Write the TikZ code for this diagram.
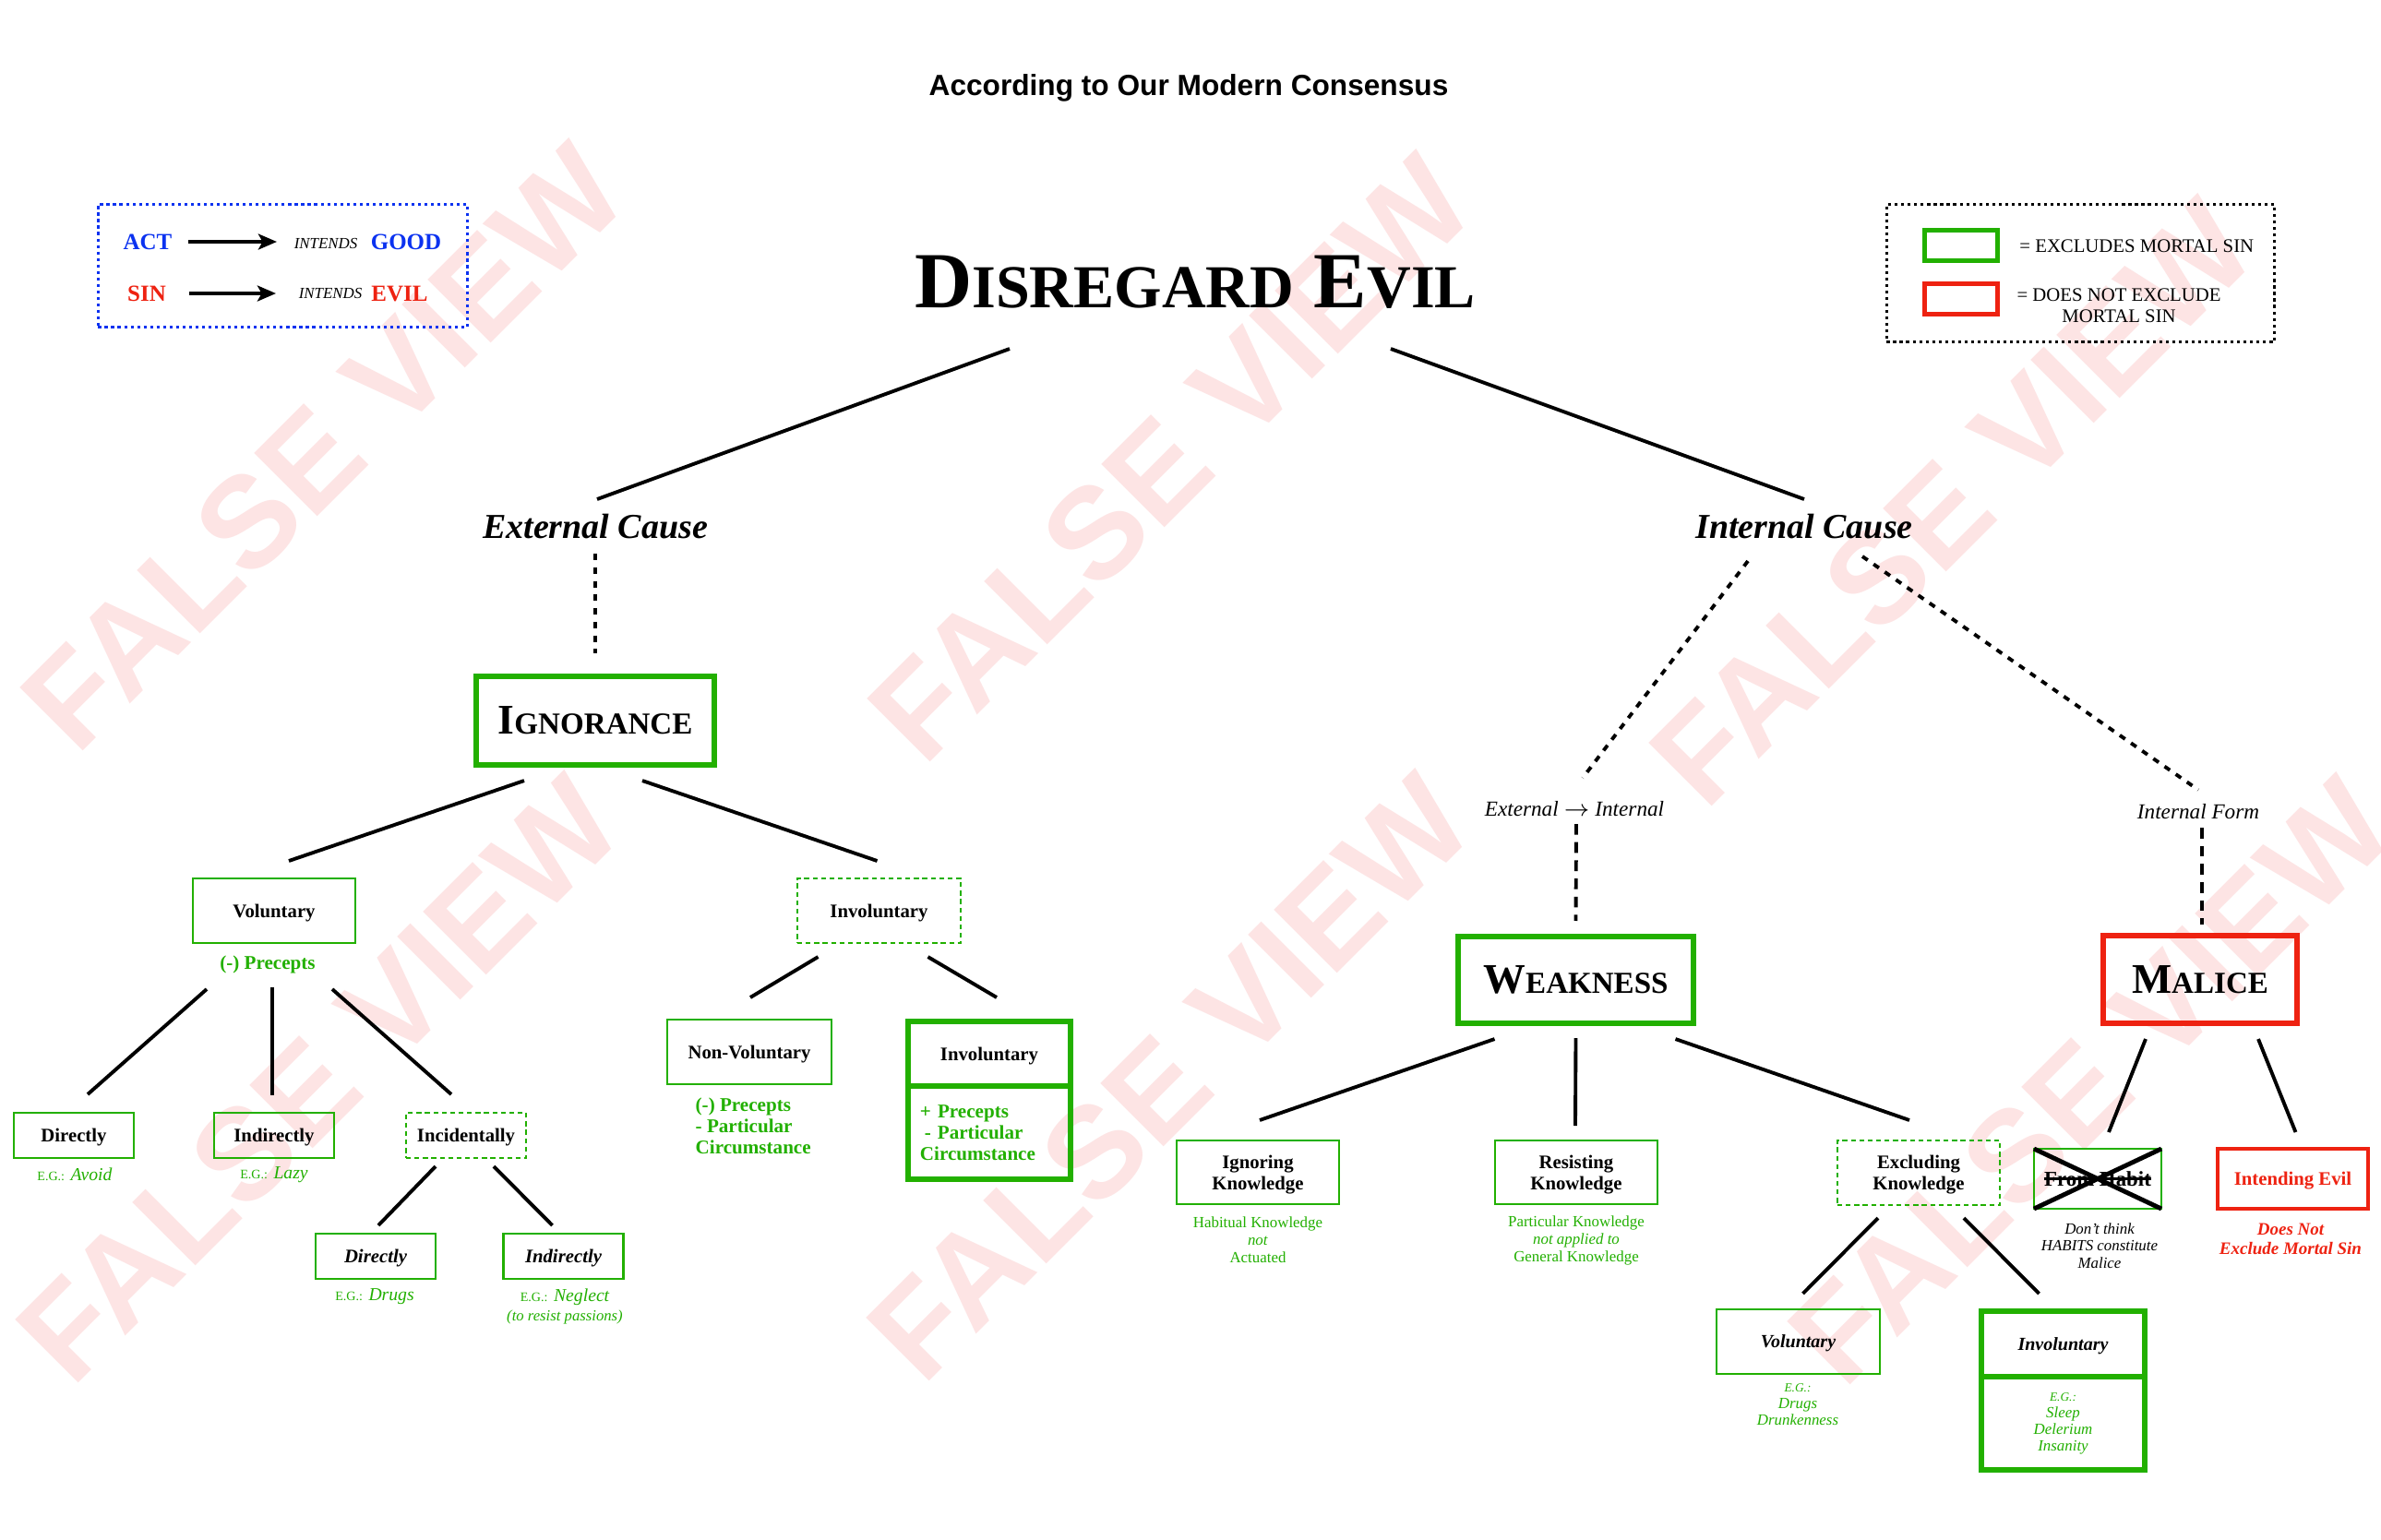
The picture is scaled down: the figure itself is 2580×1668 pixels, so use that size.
\documentclass[tikz,border=0pt]{standalone}
\usepackage{fontspec}
\setmainfont{Liberation Serif}
\setsansfont{Liberation Sans}
\usetikzlibrary{arrows.meta, positioning}
\definecolor{okgreen}{HTML}{22B000}
\definecolor{sinred}{HTML}{EE2211}
\definecolor{actblue}{HTML}{0B32F0}
\definecolor{markpink}{HTML}{FDE4E4}
\newcommand{\fsz}[2]{\fontsize{#1pt}{#2pt}\selectfont}
\newcommand{\fakesc}[3]{#2{\fontsize{#1pt}{#1pt}\selectfont #3}}
\newcommand{\egtag}{{\upshape\fsz{4}{4}E.G.:}}

\begin{document}
\begin{tikzpicture}[x=0.01cm, y=-0.01cm,
    branch/.style={line width=1.1pt},
    dotbranch/.style={line width=1.1pt, dash pattern=on 2pt off 2.2pt},
    dashbranch/.style={line width=1.1pt, dash pattern=on 3.3pt off 2.3pt},
    okbox/.style={
        draw=okgreen,
        line width=0.7pt,
        inner sep=0pt,
        outer sep=0pt,
        text depth=0pt,
        align=center,
        minimum width=1.3cm,
        minimum height=0.49cm,
        font=\bfseries\fsz{5.9}{6.5}
    },
    wideokbox/.style={okbox, minimum width=1.77cm, minimum height=0.70cm},
    maybebox/.style={dash pattern=on 1.5pt off 1.1pt},
    bigbox/.style={
        draw=okgreen,
        line width=1.6pt,
        inner sep=0pt,
        outer sep=0pt,
        text depth=0pt,
        align=center,
        font=\bfseries\fsz{13}{14}
    },
    listbox/.style={bigbox, text depth=},
    goodnote/.style={text=okgreen, font=\bfseries\fsz{6}{6.6}},
    egnote/.style={text=okgreen, align=center, font=\itshape\fsz{5.6}{5.8}},
    plainnote/.style={text=okgreen, align=center, font=\fsz{4.8}{5.4}},
    causetext/.style={font=\bfseries\itshape\fsz{10.8}{12}},
    formtext/.style={font=\itshape\fsz{6.6}{7}},
    keyframe/.style={line width=0.9pt, dash pattern=on 0.9pt off 1.1pt, minimum width=4.0cm, minimum height=1.33cm},
    keyword/.style={font=\bfseries\fsz{7.1}{8}},
    intendsword/.style={font=\itshape\fsz{4.8}{5}},
    keyarrow/.style={line width=1.4pt, -{Stealth[length=5.7pt, width=4.8pt, inset=1.3pt]}},
    swatch/.style={line width=1.4pt, inner sep=0pt, minimum width=0.79cm, minimum height=0.33cm},
    watermark/.style={text=markpink, rotate=45, font=\sffamily\bfseries\fsz{40}{40}}
]
\useasboundingbox (0,0) rectangle (2580,1668);
\fill[white] (0,0) rectangle (2580,1668);

% watermark
\foreach \wx/\wy in {350/485, 1268/497, 2115/545, 345/1170, 1267/1168, 2265/1172}
    \node[watermark] (mark\wx) at (\wx,\wy) {FALSE VIEW};

% title and root
\node[font=\sffamily\bfseries\fsz{9}{10}] (title) at (1288,95) {According to Our Modern Consensus};
\node[font=\bfseries\fsz{24.5}{26}] (root) at (1295,306) {\fakesc{18.8}{D}{ISREGARD} \fakesc{18.8}{E}{VIL}};

% key: act / sin
\node[keyframe, draw=actblue] (keyact) at (306.5,288) {};
\node[keyword, text=actblue] (act) at (160,262) {ACT};
\node[intendsword] (intgood) at (353,264) {INTENDS};
\node[keyword, text=actblue] (good) at (440,262) {GOOD};
\node[keyword, text=sinred] (sin) at (159,318) {SIN};
\node[intendsword] (intevil) at (358,318) {INTENDS};
\node[keyword, text=sinred] (evil) at (433,318) {EVIL};
\draw[keyarrow, shorten <=1.6pt, shorten >=1.8pt] (act.east) -- (act.east -| intgood.west);
\draw[keyarrow, shorten <=3.7pt, shorten >=3.5pt] (sin.east) -- (sin.east -| intevil.west);

% key: mortal sin
\node[keyframe, draw=black, minimum width=4.20cm, minimum height=1.49cm] (keymortal) at (2254.5,296) {};
\node[swatch, draw=okgreen] (swgreen) at (2125,266) {};
\node[swatch, draw=sinred] (swred) at (2125,324) {};
\node[anchor=west, font=\fsz{5.9}{6.5}] (keyok) at (2176,267) {= EXCLUDES MORTAL SIN};
\node[align=center, font=\fsz{5.9}{6.5}] (keynot) at (2296,331) {= DOES NOT EXCLUDE\\MORTAL SIN};

% causes
\node[causetext] (ext) at (645,571) {External Cause};
\node[causetext] (intc) at (1955,571) {Internal Cause};

% ignorance branch
\node[bigbox, minimum width=2.58cm, minimum height=0.96cm] (ign) at (645,781) {\fakesc{9.4}{I}{GNORANCE}};
\node[wideokbox, minimum width=1.76cm] (vol) at (297,987) {Voluntary};
\node[goodnote] (volnote) at (290,1045) {(-) Precepts};
\node[okbox] (dir1) at (80,1230.5) {Directly};
\node[egnote] (dir1note) at (81,1273) {\egtag{} Avoid};
\node[okbox] (ind1) at (297,1230.5) {Indirectly};
\node[egnote] (ind1note) at (297,1273) {\egtag{} Lazy};
\node[okbox, maybebox] (inc) at (505,1230.5) {Incidentally};
\node[okbox, font=\bfseries\itshape\fsz{5.9}{6.5}] (dir2) at (407,1361.5) {Directly};
\node[egnote] (dir2note) at (406,1405) {\egtag{} Drugs};
\node[okbox, font=\bfseries\itshape\fsz{5.9}{6.5}] (ind2) at (610.5,1361.5) {Indirectly};
\node[egnote] (ind2note) at (612,1416) {\egtag{} Neglect\\{\fsz{4.75}{5.8}(to resist passions)}};

\node[wideokbox, maybebox] (invd) at (952.5,987) {Involuntary};
\node[wideokbox, minimum width=1.78cm] (nonv) at (812,1140) {Non-Voluntary};
\node[goodnote, align=left, anchor=west, inner sep=0pt] (nonvnote) at (753,1220) {(-) Precepts\\- Particular\\Circumstance};
\node[bigbox, minimum width=1.76cm, minimum height=0.70cm, font=\bfseries\fsz{5.9}{6.5}] (invbt) at (1072,1142) {Involuntary};
\node[listbox, minimum width=1.76cm, minimum height=1.01cm, text width=1.5cm, align=left,
    text=okgreen, font=\bfseries\fsz{6}{6.6}] (invbb) at (1072,1227.5) {+ Precepts\\\hspace{1.4pt}- Particular\\Circumstance};

% weakness / malice branch
\node[formtext] (extint) at (1706,877) {External $\rightarrow$ Internal};
\node[formtext] (intform) at (2382,880) {Internal Form};
\node[bigbox, minimum width=2.55cm, minimum height=0.94cm] (weak) at (1707.5,1062) {\fakesc{9.4}{W}{EAKNESS}};
\node[bigbox, draw=sinred, minimum width=2.10cm, minimum height=0.95cm] (mal) at (2384,1061.5) {\fakesc{9.4}{M}{ALICE}};

\node[wideokbox, minimum width=1.76cm, minimum height=0.69cm] (ignk) at (1363,1270.5) {Ignoring\\Knowledge};
\node[plainnote] (ignknote) at (1363,1344) {Habitual Knowledge\\\textit{not}\\Actuated};
\node[wideokbox, minimum width=1.76cm, minimum height=0.69cm] (resk) at (1708,1270.5) {Resisting\\Knowledge};
\node[plainnote] (resknote) at (1708,1344) {Particular Knowledge\\\textit{not applied to}\\General Knowledge};
\node[wideokbox, maybebox, minimum width=1.76cm] (exck) at (2079,1271) {Excluding\\Knowledge};
\node[wideokbox, font=\bfseries\itshape\fsz{5.7}{6.5}] (volk) at (1948.5,1454) {Voluntary};
\node[egnote, font=\itshape\fsz{4.8}{5.1}] (volknote) at (1948,1522) {{\fsz{3.8}{5.1}E.G.:}\\Drugs\\Drunkenness};
\node[bigbox, minimum width=1.77cm, minimum height=0.71cm, font=\bfseries\itshape\fsz{5.7}{6.5}] (invkt) at (2235.5,1456.5) {Involuntary};
\node[listbox, minimum width=1.77cm, minimum height=1.01cm, text=okgreen, font=\itshape\fsz{4.8}{5.1}] (invkb) at (2235.5,1542.5) {{\fsz{3.8}{5.1}E.G.:}\\Sleep\\Delerium\\Insanity};

\node[okbox, minimum width=1.38cm, minimum height=0.65cm, font=\bfseries\fsz{6.5}{7}] (habit) at (2273,1277.5) {From Habit};
\draw[line width=0.6pt] ([xshift=-16.6pt]habit.center) -- ([xshift=16.6pt]habit.center);
\draw[line width=1.4pt] (habit.north west) -- (habit.south east) (habit.south west) -- (habit.north east);
\node[align=center, font=\itshape\fsz{4.8}{5.3}] (habitnote) at (2275,1350) {Don't think\\HABITS constitute\\Malice};
\node[okbox, draw=sinred, line width=1pt, text=sinred, minimum width=1.63cm, minimum height=0.65cm] (intev) at (2484.5,1277.5) {Intending Evil};
\node[align=center, text=sinred, font=\bfseries\itshape\fsz{5.4}{6}] (intevnote) at (2482,1342.5) {Does Not\\Exclude Mortal Sin};

% connectors
\draw[branch] ([shift={(-201,72)}]root.center) -- ([shift={(2,-30)}]ext.center);
\draw[branch] ([shift={(212,72)}]root.center) -- ([shift={(0,-30)}]intc.center);
\draw[dotbranch] ([shift={(0,29)}]ext.center) -- ([shift={(0,-25)}]ign.north);
\draw[branch] ([shift={(-77,17)}]ign.south) -- ([shift={(16,-19)}]vol.north);
\draw[branch] ([shift={(51,17)}]ign.south) -- ([shift={(-2,-19)}]invd.north);
\draw[branch] ([shift={(-73,50)}]vol.south) -- ([shift={(15,-20)}]dir1.north);
\draw[branch] ([shift={(-2,48)}]vol.south) -- ([shift={(-2,-19)}]ind1.north);
\draw[branch] ([shift={(63,50)}]vol.south) -- ([shift={(-16,-20)}]inc.north);
\draw[branch] ([shift={(-33,9)}]inc.south) -- ([shift={(3,-9)}]dir2.north);
\draw[branch] ([shift={(30,9)}]inc.south) -- ([shift={(-12,-9)}]ind2.north);
\draw[branch] ([shift={(-66,15)}]invd.south) -- ([shift={(1,-24)}]nonv.north);
\draw[branch] ([shift={(53,15)}]invd.south) -- ([shift={(8,-26)}]invbt.north);

\draw[dotbranch] ([shift={(-61,37)}]intc.center) -- ([shift={(9,-34)}]extint.center);
\draw[dotbranch] ([shift={(63,32)}]intc.center) -- ([shift={(0,-24)}]intform.center);
\draw[dashbranch] ([shift={(2,16)}]extint.center) -- ([shift={(0,-17)}]weak.north);
\draw[dashbranch] ([shift={(4,17)}]intform.center) -- ([shift={(2,-12)}]mal.north);
\draw[branch] ([shift={(-88,17)}]weak.south) -- ([shift={(2,-22)}]ignk.north);
\draw[branch] ([shift={(0,16)}]weak.south) -- ([shift={(-1,-16)}]resk.north);
\draw[branch] ([shift={(108,17)}]weak.south) -- ([shift={(-10,-22)}]exck.north);
\draw[branch] ([shift={(-44,14)}]exck.south) -- ([shift={(5,-17)}]volk.north);
\draw[branch] ([shift={(49,14)}]exck.south) -- ([shift={(-26,-19)}]invkt.north);
\draw[branch] ([shift={(-59,17)}]mal.south) -- ([shift={(12,-18)}]habit.north);
\draw[branch] ([shift={(63,17)}]mal.south) -- ([shift={(3,-18)}]intev.north);

\end{tikzpicture}
\end{document}
